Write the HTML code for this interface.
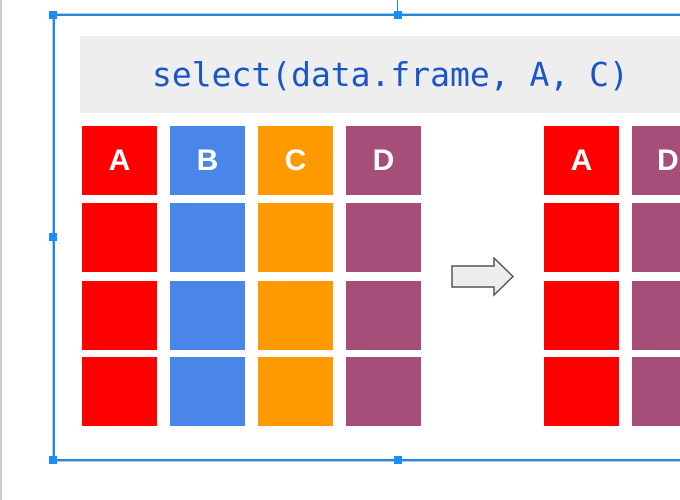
<!DOCTYPE html>
<html><head><meta charset="utf-8"><style>
body{margin:0;width:680px;height:500px;overflow:hidden;background:#fff;position:relative;font-family:"Liberation Sans",sans-serif}
div{position:absolute;box-sizing:border-box}
.c{width:75px;height:69px}
.h{color:#fff;font-weight:bold;font-size:30px;display:flex;align-items:center;justify-content:center}
.hd{width:8px;height:8px;background:#1a8cff}
</style></head><body>
<div style="left:0;top:0;width:2px;height:500px;background:#ccc"></div>
<div style="left:53px;top:14px;width:627px;height:447px;border:2px solid #2a86d8;border-right:none;box-shadow:0 0 0 1px #a8cdf3"></div>
<div style="left:397px;top:0;width:1px;height:15px;background:#2a86d8"></div>
<div class="hd" style="left:49px;top:11px"></div>
<div class="hd" style="left:394px;top:11px"></div>
<div class="hd" style="left:49px;top:233px"></div>
<div class="hd" style="left:49px;top:456px"></div>
<div class="hd" style="left:394px;top:456px"></div>
<div style="left:80px;top:36px;width:600px;height:77px;background:#eeeeee;color:#1a56c8;font-family:'DejaVu Sans Mono',monospace;font-size:33px;line-height:77px;padding-left:72px;white-space:nowrap;overflow:hidden">select(data.frame, A, C)</div>
<div style="left:451px;top:257px;width:64px;height:40px">
<svg width="64" height="40"><polygon points="1,9 43,9 43,1 62,19.5 43,38 43,30 1,30" fill="#eeeeee" stroke="#555" stroke-width="1.5"/></svg></div>
<script>
const cols=[["A","#ff0000",82],["B","#4a86e8",170],["C","#ff9900",258],["D","#a64d79",346],["A","#ff0000",544],["D","#a64d79",632]];
const rows=[126,203,281,357];
cols.forEach(function(c){rows.forEach(function(y,i){
const d=document.createElement('div');
d.className='c'+(i==0?' h':'');
d.style.left=c[2]+'px';d.style.top=y+'px';d.style.background=c[1];
if(c[2]+75>680){d.style.width=(680-c[2])+'px';d.style.justifyContent='flex-start';d.style.paddingLeft='25px';}
if(i==0)d.textContent=c[0];


document.body.appendChild(d);});});
</script>
</body></html>
